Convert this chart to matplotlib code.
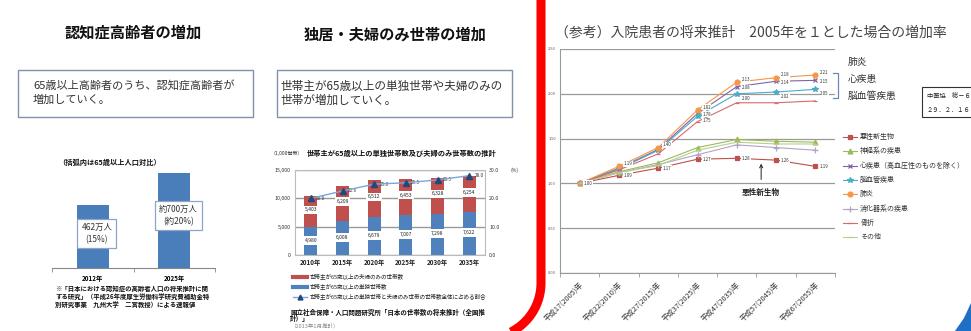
import numpy as np
import matplotlib
matplotlib.use('Agg')
import matplotlib.pyplot as plt
from matplotlib.patches import Rectangle, Polygon
from matplotlib.lines import Line2D

plt.rcParams['font.family'] = ['Noto Sans CJK JP', 'DejaVu Sans']

# ---- data ----
# 認知症高齢者
dem_years = ['2012年', '2025年']
dem_values = [462, 700]
dem_labels = ['462万人\n(15%)', '約700万人\n(約20%)']

# 独居・夫婦のみ世帯 (1,000世帯)
hh_years = ['2010年', '2015年', '2020年', '2025年', '2030年', '2035年']
hh_single = [4980, 6008, 6679, 7007, 7298, 7622]
hh_couple = [5403, 6209, 6512, 6453, 6328, 6254]
hh_ratio = [20.0, 22.6, 25.0, 25.5, 26.5, 28.0]

# 入院患者の将来推計 (2005年=1)
inp_years = ['平成17(2005)年', '平成22(2010)年', '平成27(2015)年', '平成37(2025)年',
             '平成47(2035)年', '平成57(2045)年', '平成67(2055)年']
akusei = [1.00, 1.09, 1.17, 1.27, 1.28, 1.26, 1.19]
shinkei = [1.00, 1.13, 1.23, 1.40, 1.49, 1.47, 1.46]
shinshikkan = [1.00, 1.17, 1.38, 1.78, 2.08, 2.14, 2.15]
noukekkan = [1.00, 1.16, 1.37, 1.75, 2.00, 2.02, 2.05]
haien = [1.00, 1.19, 1.40, 1.82, 2.13, 2.18, 2.21]
shoukaki = [1.00, 1.12, 1.21, 1.32, 1.43, 1.40, 1.37]
kossetsu = [1.00, 1.15, 1.33, 1.69, 1.90, 1.90, 1.92]
sonota = [1.00, 1.12, 1.20, 1.37, 1.46, 1.44, 1.44]

W, H = 971, 331
fig = plt.figure(figsize=(W / 100, H / 100), dpi=100)
fig.patch.set_facecolor('white')


def rect(x0, y0, x1, y1):
    # 画素座標 -> figure座標
    return [x0 / W, 1 - y1 / H, (x1 - x0) / W, (y1 - y0) / H]


def ftext(x, y, s, **kw):
    fig.text(x / W, 1 - y / H, s, **kw)


def fline(xs, ys, **kw):
    fig.add_artist(Line2D([x / W for x in xs], [1 - y / H for y in ys],
                          transform=fig.transFigure, **kw))


def fbox(x0, y0, x1, y1, **kw):
    fig.add_artist(Rectangle((x0 / W, 1 - y1 / H), (x1 - x0) / W, (y1 - y0) / H,
                             transform=fig.transFigure, **kw))


# ================= 左: 認知症高齢者の増加 =================
ftext(133, 33, '認知症高齢者の増加', ha='center', va='center', fontsize=11,
      fontweight='bold', color='#111')
fbox(18, 70, 253, 117, fc='white', ec='#7f93ad', lw=1.0)
ftext(33, 86, '65歳以上高齢者のうち、認知症高齢者が', va='center', fontsize=8, color='#333')
ftext(33, 100, '増加していく。', va='center', fontsize=8, color='#333')
ftext(58, 162, '（括弧内は65歳以上人口対比）', va='center', fontsize=5.2,
      fontweight='bold', color='#111')

ax1 = fig.add_axes(rect(52, 159, 215, 268))
ax1.bar(range(len(dem_values)), dem_values, width=0.39, color='#4a7ebb')
ax1.set_xlim(-0.5, 1.5)
ax1.set_ylim(0, 800)
for s in ['left', 'top', 'right']:
    ax1.spines[s].set_visible(False)
ax1.spines['bottom'].set_color('#888')
ax1.set_yticks([])
ax1.set_xticks(range(len(dem_years)))
ax1.set_xticklabels(dem_years, fontsize=4.5, fontweight='bold')
ax1.set_xticks([-0.5, 0.5, 1.5], minor=True)
ax1.tick_params(axis='x', which='major', length=0, pad=5)
ax1.tick_params(axis='x', which='minor', length=3, color='#888')
ax1.patch.set_alpha(0)
for i, (v, lab) in enumerate(zip(dem_values, dem_labels)):
    ax1.text(i + 0.05, v * 0.55, lab, ha='center', va='center', fontsize=6, color='#333',
             linespacing=1.4,
             bbox=dict(boxstyle='square,pad=0.5', fc='white', ec='#8ea4c8', lw=0.9))

for k, line in enumerate(['※「日本における認知症の高齢者人口の将来推計に関',
                          'する研究」（平成26年度厚生労働科学研究費補助金特',
                          '別研究事業　九州大学　二宮教授）による速報値']):
    ftext(55, 289 + k * 7.5, line, va='center', fontsize=4.6, fontweight='bold', color='#111')

# ================= 中: 独居・夫婦のみ世帯の増加 =================
ftext(395, 35, '独居・夫婦のみ世帯の増加', ha='center', va='center', fontsize=11,
      fontweight='bold', color='#111')
fbox(277, 70, 512, 117, fc='white', ec='#7f93ad', lw=1.0)
ftext(280, 86, '世帯主が65歳以上の単独世帯や夫婦のみの', va='center', fontsize=8.4, color='#333')
ftext(280, 100, '世帯が増加していく。', va='center', fontsize=8.4, color='#333')
ftext(270, 153, '（1,000世帯）', va='center', fontsize=3.6, color='#333')
ftext(307, 153, '世帯主が65歳以上の単独世帯数及び夫婦のみ世帯数の推計', va='center',
      fontsize=5.2, fontweight='bold', color='#111')
ftext(510, 170, '(%)', va='center', fontsize=3.6, color='#333')

ax2 = fig.add_axes(rect(295, 170, 485, 255))
x = np.arange(len(hh_years))
ax2.bar(x, hh_single, 0.42, color='#4f81bd', zorder=2)
ax2.bar(x, hh_couple, 0.42, bottom=hh_single, color='#c0504d', zorder=2)
ax2.set_xlim(-0.5, len(hh_years) - 0.5)
ax2.set_ylim(0, 15000)
ax2.set_yticks([0, 5000, 10000, 15000])
ax2.set_yticklabels(['0', '5,000', '10,000', '15,000'], fontsize=3.8, color='#333')
ax2.yaxis.grid(True, color='#999', lw=1.0, zorder=0)
ax2.set_axisbelow(True)
ax2.set_xticks(x)
ax2.set_xticklabels(hh_years, fontsize=4.5, fontweight='bold', color='#222')
ax2.tick_params(length=0, pad=3)
for s in ax2.spines.values():
    s.set_color('#bbb')
    s.set_linewidth(0.8)
for i in range(len(hh_years)):
    b, t = hh_single[i], hh_couple[i]
    ax2.text(i, b * 0.52, f'{b:,}', ha='center', va='center', fontsize=3.6, color='#222',
             zorder=3, bbox=dict(boxstyle='square,pad=0.35', fc='white', ec='none'))
    ax2.text(i, b + t * 0.55, f'{t:,}', ha='center', va='center', fontsize=3.6, color='#222',
             zorder=3, bbox=dict(boxstyle='square,pad=0.35', fc='white', ec='none'))

ax2b = ax2.twinx()
ax2b.plot(x, hh_ratio, color='#7aa6dc', lw=1.0, marker='^', ms=4,
          mfc='#1f497d', mec='#1f497d', zorder=4)
for i, r in enumerate(hh_ratio):
    ax2b.text(i + 0.17, r, f'{r:.1f}', va='center', fontsize=3.4, color='#333')
ax2b.set_ylim(0, 30)
ax2b.set_yticks([0, 10, 20, 30])
ax2b.set_yticklabels(['0.0', '10.0', '20.0', '30.0'], fontsize=3.8, color='#333')
ax2b.tick_params(length=0, pad=3)
for s in ax2b.spines.values():
    s.set_visible(False)

fline([293, 307], [277, 277], color='#c0504d', lw=3)
ftext(310, 277, '世帯主が65歳以上の夫婦のみの世帯数', va='center', fontsize=4, color='#222')
fline([293, 307], [287, 287], color='#4f81bd', lw=3)
ftext(310, 287, '世帯主が65歳以上の単独世帯数', va='center', fontsize=4, color='#222')
fline([293, 307], [297, 297], color='#7aa6dc', lw=1)
fline([300], [297], marker='^', ms=3.5, color='#1f497d', lw=0)
ftext(310, 297, '世帯主が65歳以上の単独世帯と夫婦のみ世帯の世帯数全体に占める割合',
      va='center', fontsize=4, color='#222')
ftext(290, 312, '国立社会保障・人口問題研究所「日本の世帯数の将来推計（全国推',
      va='center', fontsize=4.7, fontweight='bold', color='#111')
ftext(290, 319, '計）」', va='center', fontsize=4.7, fontweight='bold', color='#111')
ftext(290, 326, '（2013年1月推計）', va='center', fontsize=4, color='#888')

# ================= 右: 入院患者の将来推計 =================
ftext(555, 33, '（参考）入院患者の将来推計　2005年を１とした場合の増加率', va='center',
      fontsize=10, color='#444')

ax3 = fig.add_axes(rect(560, 49, 835, 273))
series = [
    ('悪性新生物', akusei, '#c0504d', 's', 3.5),
    ('神経系の疾患', shinkei, '#9bbb59', '^', 3.5),
    ('心疾患（高血圧性のものを除く）', shinshikkan, '#8064a2', 'x', 3.5),
    ('脳血管疾患', noukekkan, '#4bacc6', '*', 4),
    ('肺炎', haien, '#f79646', 'o', 3.5),
    ('消化器系の疾患', shoukaki, '#b3a2c7', '+', 4),
    ('骨折', kossetsu, '#d9696a', '_', 3.5),
    ('その他', sonota, '#b5d08a', '_', 3.5),
]
xi = np.arange(len(inp_years))
for name, vals, col, mk, ms in series:
    ax3.plot(xi, vals, color=col, lw=0.8, marker=mk, ms=ms, mew=0.9, zorder=3)

lab_kw = dict(va='center', fontsize=3.2, color='#333', zorder=5,
              bbox=dict(boxstyle='square,pad=0.1', fc='white', ec='none'))
for i in range(1, len(akusei)):
    ax3.text(i + 0.12, akusei[i], f'{akusei[i]:.2f}', **lab_kw)
for i in [1, 2, 3, 4, 5, 6]:
    ax3.text(i + 0.12, haien[i] + 0.03, f'{haien[i]:.2f}', **lab_kw)
for i in [3, 4, 5, 6]:
    ax3.text(i + 0.12, shinshikkan[i] - 0.01, f'{shinshikkan[i]:.2f}', **lab_kw)
    ax3.text(i + 0.12, noukekkan[i] - 0.05, f'{noukekkan[i]:.2f}', **lab_kw)
ax3.text(0.1, akusei[0], '1.00', **lab_kw)

ax3.set_xlim(-0.5, len(inp_years) - 0.5)
ax3.set_ylim(0, 2.5)
ax3.set_yticks(np.arange(0, 2.51, 0.5))
ax3.set_yticklabels([f'{v:.2f}' for v in np.arange(0, 2.51, 0.5)], fontsize=2.8, color='#555')
ax3.yaxis.grid(True, color='#999', lw=0.9, zorder=0)
ax3.set_axisbelow(True)
ax3.tick_params(axis='y', length=0, pad=3)
ax3.set_xticks(xi)
ax3.set_xticklabels(inp_years, fontsize=5.3, color='#333', rotation=45, ha='right',
                    rotation_mode='anchor')
ax3.set_xticks(np.arange(-0.5, len(inp_years), 1.0), minor=True)
ax3.tick_params(axis='x', which='major', length=0, pad=6)
ax3.tick_params(axis='x', which='minor', length=3, color='#999')
for s in ['top', 'right']:
    ax3.spines[s].set_visible(False)
for s in ['left', 'bottom']:
    ax3.spines[s].set_color('#999')
ax3.patch.set_alpha(0)

ax3.annotate('悪性新生物', xy=(4.62, 1.22), xytext=(4.62, 0.90), ha='center', va='center',
             fontsize=5.5, fontweight='bold', color='#222',
             arrowprops=dict(arrowstyle='->', color='#222', lw=0.7, shrinkA=4, shrinkB=0))

# 凡例
for k, (name, vals, col, mk, ms) in enumerate(series):
    y = 137 + k * 14.3
    fline([843, 857], [y, y], color=col, lw=0.8)
    fline([850], [y], color=col, marker=mk, ms=ms, mew=0.9, lw=0)
    ftext(860, y, name, va='center', fontsize=5, color='#333')

# 上位疾患の注記
ftext(848, 62, '肺炎', va='center', fontsize=7, color='#333')
ftext(848, 79, '心疾患', va='center', fontsize=7, color='#333')
ftext(848, 96, '脳血管疾患', va='center', fontsize=7, color='#333')
fline([833, 838, 838, 833], [73, 73, 98, 98], color='#6a8ab5', lw=0.9)

fbox(922, 87, 980, 117, fc='white', ec='#333', lw=0.8)
ftext(927, 96, '中医協　総－６', va='center', fontsize=4.5, color='#222')
ftext(927, 110, '２９．２．１６', va='center', fontsize=4.5, color='#222')

# 赤枠と右下の青い角
t = np.linspace(0, np.arcsin(52 / 55), 30)
rx = list(np.full(2, 541.0)) + list(486 + 55 * np.cos(t))
ry = [-5, 283] + list(283 + 55 * np.sin(t))
fline(rx, ry, color='#ff0000', lw=6.5, solid_capstyle='butt')
fig.add_artist(Polygon([(955 / W, 0), (1, 0), (1, 1 - 303 / H), (964 / W, 1 - 318 / H)],
                       closed=True, transform=fig.transFigure, fc='#1f6fc5', ec='none'))

fig.savefig('out.png', dpi=100)
